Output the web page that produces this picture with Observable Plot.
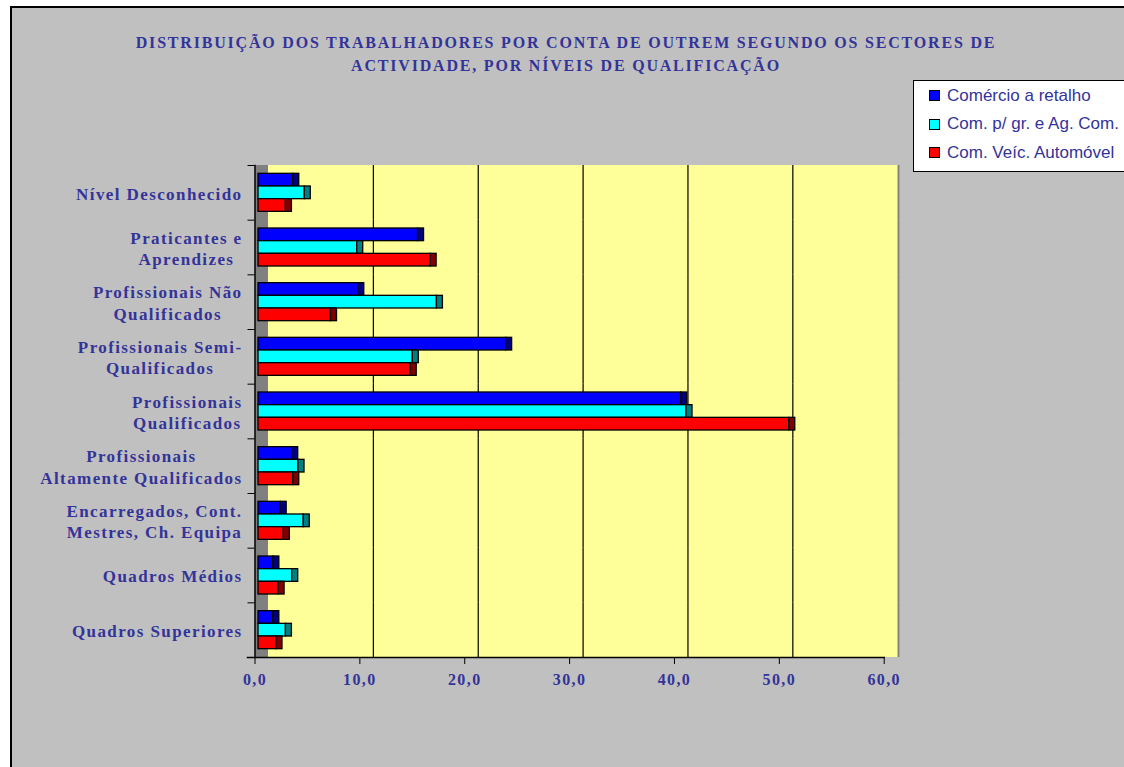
<!DOCTYPE html>
<html><head><meta charset="utf-8">
<script src="https://cdn.jsdelivr.net/npm/d3@7"></script>
<script src="https://cdn.jsdelivr.net/npm/@observablehq/plot@0.6"></script>
<style>
html,body{margin:0;padding:0;background:#fff;}
#wrap{position:relative;width:1124px;height:767px;overflow:hidden;}
#bg{position:absolute;left:10px;top:6px;width:1130px;height:780px;background:#c0c0c0;border-left:2px solid #000;border-top:2px solid #000;}
#title{position:absolute;left:4px;width:1124px;top:31px;text-align:center;font-family:"Liberation Serif";font-weight:bold;font-size:16px;color:#333399;line-height:23px;letter-spacing:1.8px;}
#legend{position:absolute;left:913px;top:80px;width:230px;height:90px;background:#fff;border:1.5px solid #000;font-family:"Liberation Sans";font-size:17px;color:#333399;}
.row{position:absolute;left:15px;height:20px;display:flex;align-items:center;white-space:nowrap;}
.sw{width:9px;height:9px;border:1px solid #000;margin-right:7px;}
#chart{position:absolute;left:0;top:0;}
</style></head>
<body>
<div id="wrap">
  <div id="bg"></div>
  <div id="chart"></div>
  <div id="title">DISTRIBUIÇÃO DOS TRABALHADORES POR CONTA DE OUTREM SEGUNDO OS SECTORES DE<br>ACTIVIDADE, POR NÍVEIS DE QUALIFICAÇÃO</div>
  <div id="legend"></div>
</div>
<script>
const series = ["Comércio a retalho", "Com. p/ gr. e Ag. Com.", "Com. Veíc. Automóvel"];
const categories = [
  "Nível Desconhecido",
  "Praticantes e Aprendizes",
  "Profissionais Não Qualificados",
  "Profissionais Semi-Qualificados",
  "Profissionais Qualificados",
  "Profissionais Altamente Qualificados",
  "Encarregados, Cont. Mestres, Ch. Equipa",
  "Quadros Médios",
  "Quadros Superiores"
];
const categoryLabels = [
  "Nível Desconhecido",
  "Praticantes e\nAprendizes",
  "Profissionais Não\nQualificados",
  "Profissionais Semi-\nQualificados",
  "Profissionais\nQualificados",
  "Profissionais\nAltamente Qualificados",
  "Encarregados, Cont.\nMestres, Ch. Equipa",
  "Quadros Médios",
  "Quadros Superiores"
];
const retalho   = [3.6, 15.5,  9.8, 23.9, 40.6, 3.5, 2.4, 1.7, 1.7];
const grosso    = [4.7,  9.7, 17.3, 15.0, 41.1, 4.1, 4.6, 3.5, 2.9];
const automovel = [2.9, 16.7,  7.2, 14.8, 50.9, 3.6, 2.7, 2.2, 2.0];
const xTicks = [0, 10, 20, 30, 40, 50, 60];
const gridValues = [10, 20, 30, 40, 50];
const faceColors = ["#0000FF", "#00FFFF", "#FF0000"];
const capColors = ["#000080", "#008080", "#800000"];

const seriesValues = [retalho, grosso, automovel];
const rows = categories.flatMap((c, i) => series.map((s, j) => ({category: c, series: s, value: seriesValues[j][i]})));

// legend
const legend = document.getElementById("legend");
series.forEach((s, j) => {
  const r = document.createElement("div");
  r.className = "row";
  r.style.top = (4.5 + j * 28.5) + "px";
  r.innerHTML = `<div class="sw" style="background:${faceColors[j]}"></div><span>${s}</span>`;
  legend.appendChild(r);
});

// label measurement for centred multi-line category labels
const LS = 1.4, FS = 16, LFS = 17;
const ctx = document.createElement("canvas").getContext("2d");
ctx.font = `bold ${LFS}px "Liberation Serif"`;
const lineW = t => ctx.measureText(t).width + LS * t.length;
const labelRight = 242, marginLeft = 254.5;

const facetStep = (657 - 165) / categories.length;

const marks = [
  Plot.rect([0], {x1: 0, x2: 60, dx: 13.5, fill: "#FFFF99", shapeRendering: "crispEdges"}),
  Plot.ruleX([60], {dx: 14.5, stroke: "#7f7f7f", strokeWidth: 1.5}),
  Plot.rect([0], {x1: 0, x2: 0, insetRight: -13.5, fill: "#808080", shapeRendering: "crispEdges"}),
  Plot.ruleX(gridValues, {dx: 13.5, stroke: "#000", strokeWidth: 1.2})
];
series.forEach((s, j) => {
  const d = rows.filter(r => r.series === s);
  marks.push(Plot.barX(d, {fy: "category", y: "series", x1: 0, x2: "value", dx: 3.5,
    insetTop: 0, insetBottom: 0, insetLeft: 0, insetRight: 3,
    fill: faceColors[j], stroke: "#000", strokeWidth: 1.3}));
  marks.push(Plot.barX(d, {fy: "category", y: "series", x1: "value", x2: "value", dx: 3.5,
    insetTop: 0, insetBottom: 0, insetLeft: -3, insetRight: -3,
    fill: capColors[j], stroke: "#000", strokeWidth: 1.3}));
});
marks.push(Plot.frame({anchor: "left", facet: "super", stroke: "#000", strokeWidth: 1.5}));
marks.push(Plot.frame({anchor: "bottom", facet: "super", insetLeft: -7.5, stroke: "#000", strokeWidth: 1.5}));
marks.push(Plot.axisFy({anchor: "left", tickSize: 7, tickFormat: () => "", dy: -facetStep / 2, stroke: "#000", label: null}));
marks.push(Plot.axisX(xTicks, {anchor: "bottom", tickSize: 7, tickPadding: 9,
  tickFormat: d => d.toFixed(1).replace(".", ","), stroke: "#000", fill: "#333399", label: null}));
categories.forEach((c, i) => {
  const w = Math.max(...categoryLabels[i].split("\n").map(lineW));
  marks.push(Plot.text([c], {fy: d => d, text: () => categoryLabels[i], frameAnchor: "left",
    textAnchor: "middle", lineHeight: 1.25, fontSize: LFS, fill: "#333399", dx: labelRight - w / 2 - marginLeft}));
});

const chart = Plot.plot({
  width: 1124, height: 767,
  marginLeft, marginRight: 1124 - 883.7, marginTop: 165, marginBottom: 110,
  x: {domain: [0, 60], axis: null},
  y: {domain: series, axis: null, paddingInner: 0, paddingOuter: 0.657, round: false},
  fy: {domain: categories, axis: null, paddingInner: 0, paddingOuter: 0, round: false},
  style: {background: "transparent", fontFamily: "Liberation Serif", fontWeight: "bold",
    fontSize: FS + "px", letterSpacing: LS + "px", overflow: "visible"},
  marks
});
document.getElementById("chart").appendChild(chart);
</script>
</body></html>
